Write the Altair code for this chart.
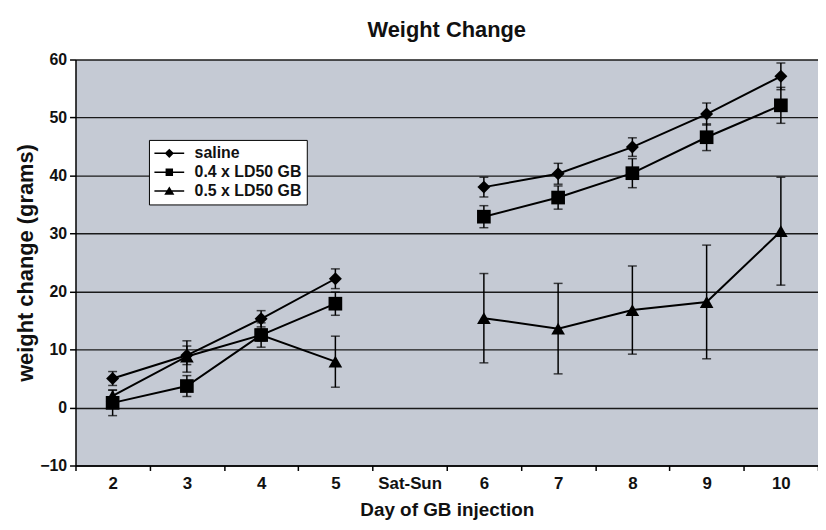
import altair as alt
import pandas as pd

# ---- data ----
categories = ["2", "3", "4", "5", "Sat-Sun", "6", "7", "8", "9", "10"]
days = ["2", "3", "4", "5", "6", "7", "8", "9", "10"]
segments = ["first", "first", "first", "first", "second", "second", "second", "second", "second"]
series_names = ["saline", "0.4 x LD50 GB", "0.5 x LD50 GB"]

saline = [5.0, 9.0, 15.3, 22.2, 38.0, 40.3, 44.9, 50.6, 57.1]
saline_err = [1.2, 1.6, 1.4, 1.7, 1.7, 1.8, 1.6, 1.9, 2.3]
ld04 = [0.8, 3.7, 12.5, 17.9, 32.9, 36.2, 40.4, 46.6, 52.1]
ld04_err = [2.2, 1.8, 2.1, 2.0, 1.9, 2.0, 2.5, 2.3, 3.1]
ld05 = [2.0, 8.8, 12.5, 7.9, 15.4, 13.6, 16.8, 18.2, 30.4]
ld05_err = [1.0, 2.7, 1.0, 4.4, 7.7, 7.8, 7.6, 9.8, 9.3]

point_shapes = ["diamond", "square", "triangle-up"]
point_sizes = [170, 190, 190]
# legend glyphs: a short line (thin filled bar) with the series marker on it
legend_paths = [
    "M-2,-0.1H2V0.1H-2ZM0,-0.62L0.62,0L0,0.62L-0.62,0Z",
    "M-2,-0.1H2V0.1H-2ZM-0.5,-0.5H0.5V0.5H-0.5Z",
    "M-2,-0.1H2V0.1H-2ZM0,-0.62L0.68,0.5H-0.68Z",
]

rows = []
for name, vals, errs in [(series_names[0], saline, saline_err),
                         (series_names[1], ld04, ld04_err),
                         (series_names[2], ld05, ld05_err)]:
    for i, (d, v, e) in enumerate(zip(days, vals, errs)):
        rows.append({"series": name, "day": d, "idx": i, "seg": segments[i],
                     "value": v, "lo": v - e, "hi": v + e})
df = pd.DataFrame(rows)

FONT = "Liberation Sans"

xscale = alt.Scale(type="band", domain=categories, paddingInner=0, paddingOuter=0)
xaxis = alt.Axis(
    title="Day of GB injection", labelAngle=0, tickBand="extent", grid=False,
    domainColor="black", domainWidth=1.5, tickColor="black", tickWidth=1.5, tickSize=5,
    labelFont=FONT, labelFontSize=17, labelFontWeight="bold", labelColor="#111",
    labelPadding=5, titleFont=FONT, titleFontSize=19, titleFontWeight="bold",
    titleColor="#111", titlePadding=9,
)
yscale = alt.Scale(domain=[-10, 60], nice=False, zero=False)
yaxis = alt.Axis(
    title="weight change (grams)", values=[-10, 0, 10, 20, 30, 40, 50, 60],
    grid=True, gridColor="#1a1a1a", gridWidth=1.4, gridOpacity=1,
    domainColor="black", domainWidth=1.5, tickColor="black", tickWidth=1.5, tickSize=6,
    labelFont=FONT, labelFontSize=16, labelFontWeight="bold", labelColor="#111",
    labelPadding=3, titleFont=FONT, titleFontSize=22, titleFontWeight="bold",
    titleColor="#111", titlePadding=2,
)

X = alt.X("day:O", scale=xscale, axis=xaxis, bandPosition=0.5)
base = alt.Chart(df)

err_rule = base.mark_rule(color="black", strokeWidth=1.5).encode(
    x=X, y=alt.Y("lo:Q", scale=yscale, axis=yaxis), y2="hi:Q")
cap_lo = base.mark_tick(color="black", thickness=1.5, size=9).encode(x=X, y="lo:Q")
cap_hi = base.mark_tick(color="black", thickness=1.5, size=9).encode(x=X, y="hi:Q")

lines = base.mark_line(color="black", strokeWidth=2).encode(
    x=X, y="value:Q", detail=["series:N", "seg:N"], order="idx:Q")

point_layers = []
for name, shp, sz in zip(series_names, point_shapes, point_sizes):
    point_layers.append(
        base.transform_filter(alt.datum.series == name)
        .mark_point(shape=shp, size=sz, filled=True, color="black", opacity=1)
        .encode(x=X, y="value:Q")
    )

legend_layer = base.mark_point(filled=True, color="black", opacity=0).encode(
    x=X, y="value:Q",
    shape=alt.Shape("series:N", scale=alt.Scale(domain=series_names, range=legend_paths),
                    legend=alt.Legend(
                        title=None, orient="none", legendX=74, legendY=81,
                        fillColor="white", strokeColor="black", padding=5,
                        symbolSize=225, symbolFillColor="black",
                        symbolOpacity=1, symbolOffset=7,
                        labelOffset=17, labelFont=FONT, labelFontSize=16,
                        labelFontWeight="bold", labelColor="#111", rowPadding=2,
                    )),
)

chart = alt.layer(err_rule, cap_lo, cap_hi, lines, *point_layers, legend_layer).properties(
    width=748, height=409,
    autosize=alt.AutoSizeParams(type="none"),
    padding={"left": 68, "top": 50, "right": 0, "bottom": 53},
    title=alt.TitleParams("Weight Change", font=FONT, fontSize=22, fontWeight="bold",
                          color="#111", anchor="middle", offset=10),
    background="white",
).configure_view(fill="#c5cad4", stroke="transparent")

chart.save("out.html", embed_options={"renderer": "svg", "actions": False})
